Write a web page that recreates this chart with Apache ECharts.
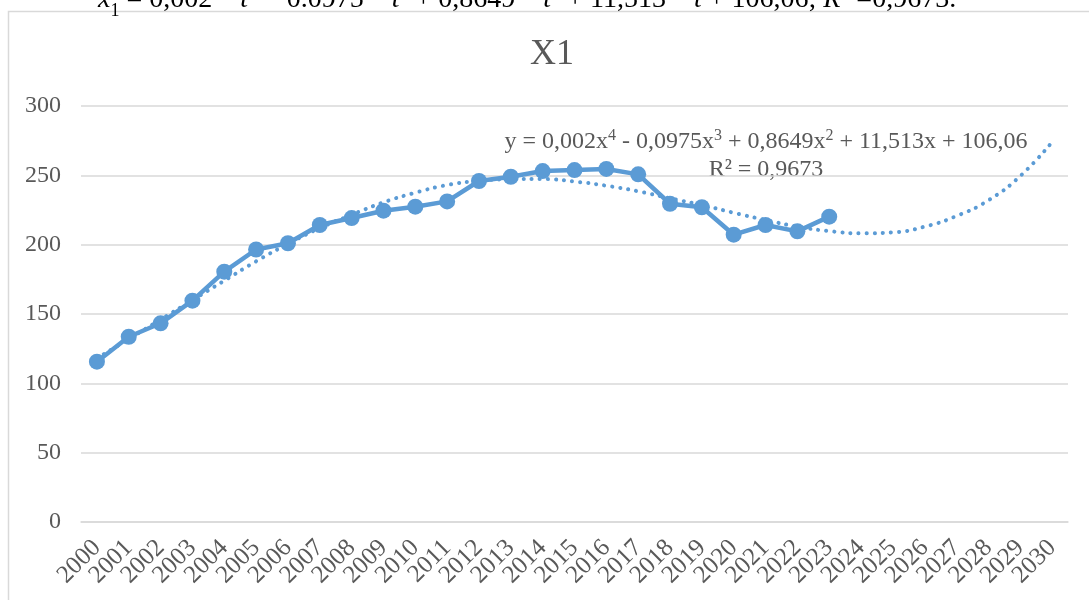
<!DOCTYPE html>
<html lang="en">
<head>
<meta charset="UTF-8">
<title>X1</title>
<style>
  html, body { margin: 0; padding: 0; background: #fff; }
</style>
</head>
<body>
	<div id="main" style="width: 1089px; height: 600px;"></div>

	<script src="https://cdn.jsdelivr.net/npm/echarts@6/dist/echarts.min.js"></script>
	<script type="text/javascript">
		// years on the x axis (2024-2030 only carry the trend)
		var years = ['2000', '2001', '2002', '2003', '2004', '2005', '2006', '2007', '2008', '2009',
			'2010', '2011', '2012', '2013', '2014', '2015', '2016', '2017', '2018', '2019',
			'2020', '2021', '2022', '2023', '2024', '2025', '2026', '2027', '2028', '2029', '2030'];
		// X1 values, 2000-2023
		var x1 = [115.6, 133.6, 143.3, 159.6, 180.5, 196.5, 201, 214.2, 219.2, 224.5,
			227.4, 231.2, 245.9, 249, 253.1, 253.8, 254.6, 250.7, 229.5, 227,
			207.2, 214.2, 209.6, 220.2];
		// polynomial trend, 2000-2030
		var trend = [118, 132, 146, 160, 174, 188, 200.5, 212, 221.5, 230.5,
			237.5, 243, 246, 247.2, 247.3, 245.5, 242.5, 238.5, 233.4, 228.6,
			223, 217.8, 213, 209.8, 208.2, 208.9, 213, 220.7, 232, 249.5, 274];
		var yTicks = [0, 50, 100, 150, 200, 250, 300];

		var serif = '"Liberation Serif", "Times New Roman", serif';
		var grey = '#595959';
		var blue = '#5b9bd5';

		var myChart = echarts.init(document.getElementById('main'));

		var option = {
			backgroundColor: '#fff',
			animation: false,
			title: {
				text: 'X1',
				left: 525,
				top: 32,
				textStyle: { fontFamily: serif, fontSize: 36, fontWeight: 'normal', color: grey }
			},
			grid: { left: 81, right: 21, top: 106, bottom: 78 },
			xAxis: {
				type: 'category',
				data: years,
				boundaryGap: true,
				axisLine: { lineStyle: { color: '#d9d9d9', width: 1.5 } },
				axisTick: { show: false },
				axisLabel: {
					interval: 0,
					rotate: 45,
					margin: 22,
					fontFamily: serif,
					fontSize: 25,
					color: grey
				}
			},
			yAxis: {
				type: 'value',
				min: yTicks[0],
				max: yTicks[yTicks.length - 1],
				interval: 50,
				axisLine: { show: false },
				axisTick: { show: false },
				splitLine: { lineStyle: { color: '#d9d9d9', width: 1.5 } },
				axisLabel: { margin: 20, fontFamily: serif, fontSize: 24, color: grey }
			},
			series: [{
				name: 'trend',
				type: 'line',
				data: trend,
				smooth: true,
				symbol: 'none',
				z: 1,
				lineStyle: { color: blue, width: 4, type: [0.1, 8], cap: 'round' }
			}, {
				name: 'X1',
				type: 'line',
				data: x1,
				symbol: 'circle',
				symbolSize: 16,
				z: 3,
				itemStyle: { color: blue },
				lineStyle: { color: blue, width: 4.5 }
			}],
			graphic: [{
				// chart area border
				type: 'rect',
				shape: { x: 8.5, y: 11.5, width: 1200, height: 700 },
				style: { fill: null, stroke: '#d9d9d9', lineWidth: 1.5 },
				z: -1
			}, {
				// equation of the document text, cut by the top edge
				type: 'text',
				left: 98,
				top: -14,
				style: {
					text: '{i|x}{sub|1} = 0,002 * {i|t}{sup|4} − 0.0975 * {i|t}{sup|3} + 0,8649 * {i|t}{sup|2} + 11,513 * {i|t} + 106,06; {i|R}{sup|2} =0,9673.',
					fontFamily: serif,
					fontSize: 28,
					fill: '#000',
					rich: {
						i: { fontFamily: serif, fontSize: 28, fontStyle: 'italic', fill: '#000' },
						sub: { fontFamily: serif, fontSize: 18, fill: '#000', verticalAlign: 'bottom', padding: [0, 0, -6, 0] },
						sup: { fontFamily: serif, fontSize: 18, fill: '#000', verticalAlign: 'top' }
					}
				}
			}, {
				// trendline label
				type: 'text',
				x: 766,
				y: 128,
				style: {
					text: 'y = 0,002x{s|4} - 0,0975x{s|3} + 0,8649x{s|2} + 11,513x + 106,06\nR² = 0,9673',
					align: 'center',
					verticalAlign: 'top',
					fontFamily: serif,
					fontSize: 24,
					lineHeight: 28,
					fill: grey,
					rich: {
						s: { fontFamily: serif, fontSize: 16, fill: grey, verticalAlign: 'top' }
					}
				}
			}]
		};

		myChart.setOption(option);
	</script>
</body>
</html>
